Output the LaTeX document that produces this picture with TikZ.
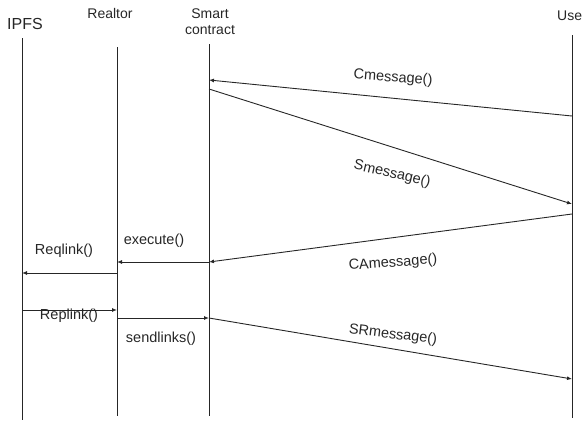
\documentclass[tikz,border=0pt]{standalone}
\usepackage{fontspec}
\setmainfont{Liberation Sans}
\usetikzlibrary{arrows.meta}
\begin{document}
\begin{tikzpicture}[x=1pt,y=-1pt,
  lifeline/.style={line width=0.9pt, draw=black!85},
  msg/.style={line width=0.9pt, draw=black!85, -{Latex[length=5pt,width=4pt]}},
  actor/.style={font=\fontsize{14}{16}\selectfont, align=center, inner sep=0pt, text=black!85},
  lbl/.style={font=\fontsize{14.5}{16}\selectfont, inner sep=0pt, text=black!85},
]
\useasboundingbox (0,0) rectangle (582,423);
\clip (0,0) rectangle (582,423);

% participants
\node[actor, font=\fontsize{16}{18}\selectfont] (ipfs) at (25,24) {IPFS};
\node[actor] (realtor) at (110,13) {Realtor};
\node[actor] (sc) at (210,22) {Smart\\contract};
\node[actor, anchor=west] (user) at (557,16) {User};

% lifelines
\coordinate (ipfsT) at (22,38);   \coordinate (ipfsB) at (22,420);
\coordinate (realT) at (117,47);  \coordinate (realB) at (117,416);
\coordinate (scT)   at (209,44);  \coordinate (scB)   at (209,416);
\coordinate (userT) at (572,35);  \coordinate (userB) at (572,418);
\draw[lifeline] (ipfsT) -- (ipfsB);
\draw[lifeline] (realT) -- (realB);
\draw[lifeline] (scT) -- (scB);
\draw[lifeline] (userT) -- (userB);

% message end points
\coordinate (u1) at (572,116); \coordinate (s1) at (209,80);
\coordinate (s2) at (209,89);  \coordinate (u2) at (572,204);
\coordinate (u3) at (572,214); \coordinate (s3) at (209,262);
\coordinate (r3) at (117,262);
\coordinate (r4) at (117,273); \coordinate (i4) at (22,273);
\coordinate (i5) at (22,310);  \coordinate (r5) at (117,310);
\coordinate (r6) at (117,318); \coordinate (s6) at (209,318);
\coordinate (u6) at (572,379);

% messages
\draw[msg] (u1) -- (s1);
\draw[msg] (s2) -- (u2);
\draw[msg] (u3) -- (s3);
\draw[msg] (s3) -- (r3);
\draw[msg] (r4) -- (i4);
\draw[msg] (i5) -- (r5);
\draw[msg] (r6) -- (s6);
\draw[msg] (s6) -- (u6);

% message labels
\node[lbl, rotate=-4]  (lc)  at (393,78)  {Cmessage()};
\node[lbl, rotate=-13] (ls)  at (392,174) {Smessage()};
\node[lbl, rotate=4]   (lca) at (393,263) {CAmessage()};
\node[lbl, rotate=-7]  (lsr) at (393,335) {SRmessage()};
\node[lbl] (lex) at (154,241) {execute()};
\node[lbl] (lrq) at (64,251)  {Reqlink()};
\node[lbl] (lrp) at (69,316)  {Replink()};
\node[lbl] (lsl) at (161,339) {sendlinks()};
\end{tikzpicture}
\end{document}
